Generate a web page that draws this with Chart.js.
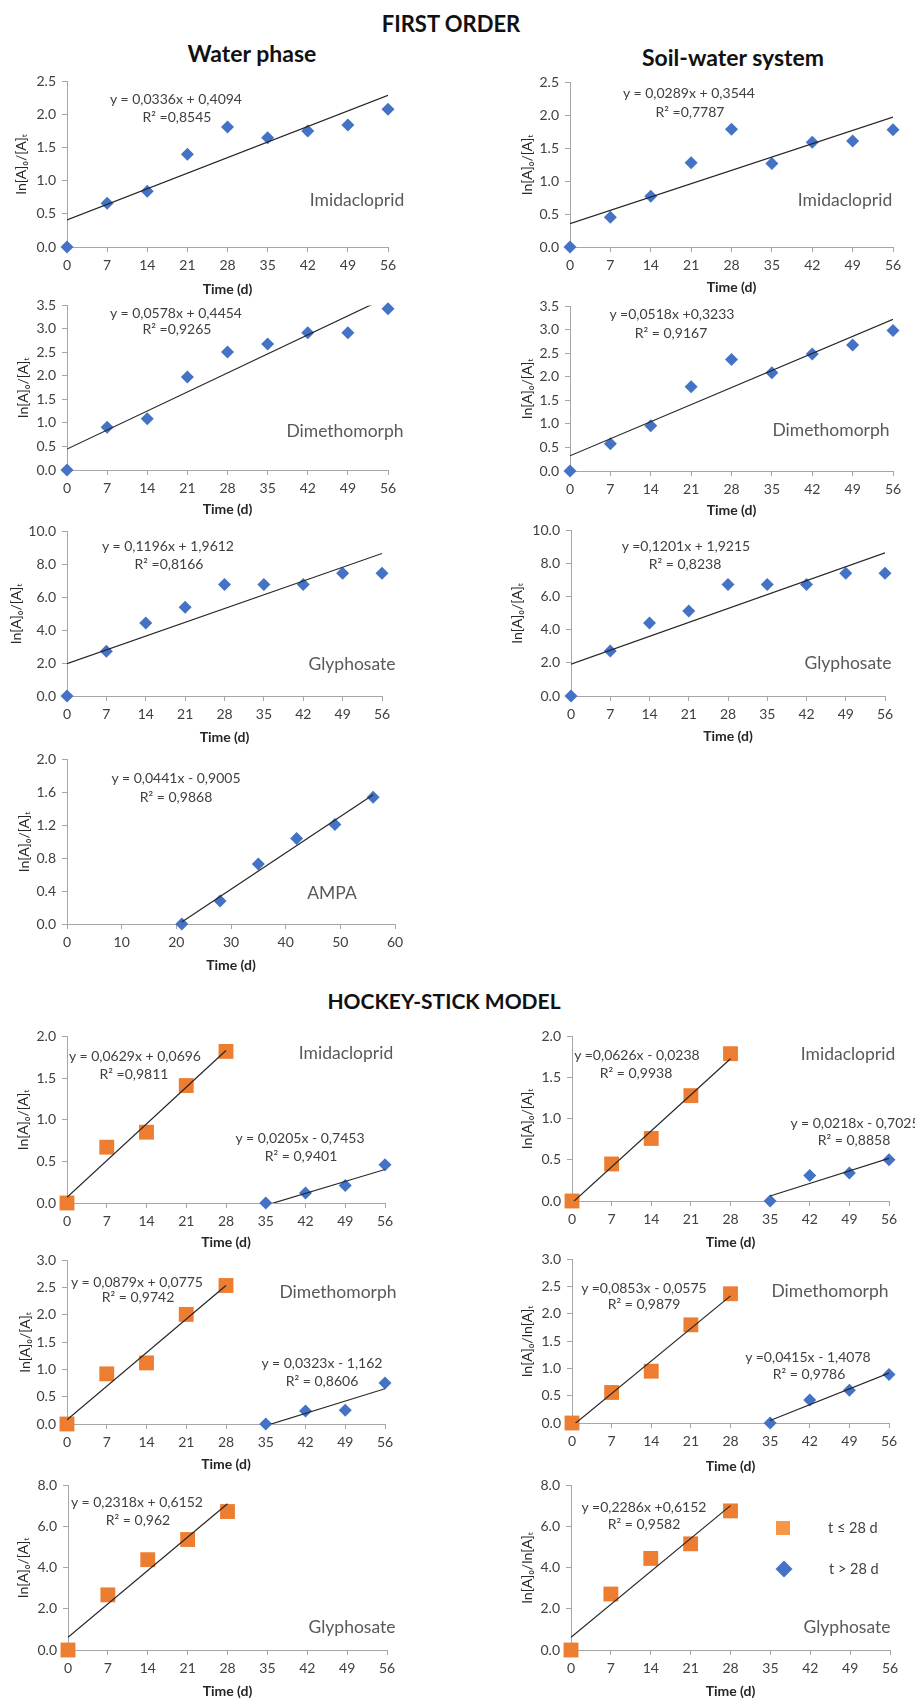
<!DOCTYPE html>
<html>
<head>
<meta charset="utf-8">
<script src="https://cdn.jsdelivr.net/npm/chart.js@4.4.1/dist/chart.umd.min.js"></script>
<style>
  html, body { margin: 0; padding: 0; background: #fff; }
  #page { position: relative; width: 915px; height: 1701px; overflow: hidden; font-family: Lato, "Open Sans", sans-serif; }
  #page canvas { position: absolute; }
  .head { position: absolute; transform: translate(-50%, -50%); font-weight: bold; color: #111; white-space: nowrap; font-size: 22px; }
  .note { position: absolute; transform: translate(-50%, -50%); white-space: nowrap; color: #404040; font-size: 14px; }
  .name { position: absolute; transform: translate(-50%, -50%); white-space: nowrap; color: #595959; font-size: 17.5px; }
</style>
</head>
<body>
<div id="page">
  <div class="head" style="left:451px; top:23px;">FIRST ORDER</div>
  <div class="head" style="left:252px; top:53px; font-size:23px;">Water phase</div>
  <div class="head" style="left:733px; top:57px; font-size:23px;">Soil-water system</div>
  <div class="head" style="left:444px; top:1000px; font-size:21px;">HOCKEY-STICK MODEL</div>
</div>
<script>
// sampling days
const days = [0, 7, 14, 21, 28, 35, 42, 49, 56];
const daysEarly = [0, 7, 14, 21, 28];
const daysLate = [35, 42, 49, 56];
const daysAmpa = [21, 28, 35, 42, 49, 56];

// first order - water phase
const waterImida = [0, 0.66, 0.84, 1.40, 1.81, 1.65, 1.75, 1.84, 2.08];
const waterDime = [0, 0.91, 1.09, 1.98, 2.51, 2.68, 2.92, 2.92, 3.43];
const waterGly = [0, 2.72, 4.43, 5.39, 6.77, 6.77, 6.77, 7.46, 7.46];
const waterAmpa = [0, 0.28, 0.73, 1.04, 1.21, 1.54];

// first order - soil-water system
const soilImida = [0, 0.45, 0.77, 1.28, 1.79, 1.27, 1.59, 1.61, 1.78];
const soilDime = [0, 0.58, 0.96, 1.79, 2.37, 2.09, 2.49, 2.68, 2.99];
const soilGly = [0, 2.71, 4.41, 5.14, 6.73, 6.73, 6.73, 7.41, 7.41];

// hockey-stick: t <= 28 d and t > 28 d
const hsWaterImidaEarly = [0, 0.67, 0.85, 1.41, 1.82];
const hsWaterImidaLate = [0, 0.12, 0.21, 0.46];
const hsWaterDimeEarly = [0, 0.92, 1.12, 2.01, 2.54];
const hsWaterDimeLate = [0, 0.24, 0.25, 0.75];
const hsWaterGlyEarly = [0, 2.68, 4.39, 5.37, 6.73];
const hsSoilImidaEarly = [0, 0.45, 0.76, 1.28, 1.79];
const hsSoilImidaLate = [0, 0.31, 0.34, 0.50];
const hsSoilDimeEarly = [0, 0.56, 0.95, 1.80, 2.37];
const hsSoilDimeLate = [0, 0.42, 0.60, 0.89];
const hsSoilGlyEarly = [0, 2.72, 4.45, 5.16, 6.76];

// regression lines [slope, intercept]
const fitWaterImida = [0.0336, 0.4094];
const fitWaterDime = [0.0578, 0.4454];
const fitWaterGly = [0.1196, 1.9612];
const fitWaterAmpa = [0.0441, -0.9005];
const fitSoilImida = [0.0289, 0.3544];
const fitSoilDime = [0.0518, 0.3233];
const fitSoilGly = [0.1201, 1.9215];
const fitHsWaterImidaEarly = [0.0629, 0.0696];
const fitHsWaterImidaLate = [0.0205, -0.7453];
const fitHsWaterDimeEarly = [0.0879, 0.0775];
const fitHsWaterDimeLate = [0.0323, -1.162];
const fitHsWaterGlyEarly = [0.2318, 0.6152];
const fitHsSoilImidaEarly = [0.0626, -0.0238];
const fitHsSoilImidaLate = [0.0218, -0.7025];
const fitHsSoilDimeEarly = [0.0853, -0.0575];
const fitHsSoilDimeLate = [0.0415, -1.4078];
const fitHsSoilGlyEarly = [0.2286, 0.6152];

const ORANGE = '#ED7D31';
const BLUE = '#4472C4';
const AXIS = '#A6A6A6';
const TXT = '#404040';
const FONT = 'Lato, "Open Sans", sans-serif';
const TITLE_SIZE = 14;
const LH = TITLE_SIZE * 1.2;

const Y_A = 'ln[A]\u2080/[A]\u209C';
const Y_B = 'ln[A]\u2080/ln[A]\u209C';

Chart.defaults.font.family = FONT;
Chart.defaults.color = TXT;

// box: [y-axis x, x-max x, y-max y, y-zero y, y-title x, x-title y] in page pixels
const panels = [
  { box: [67, 388, 77, 247, 21, 290], xMax: 56, xStep: 7, yMax: 2.5, yStep: 0.5, yTitle: Y_A,
    pts: [[days, waterImida, 'late']], fits: [[fitWaterImida, 0, 56]],
    notes: [['y = 0,0336x + 0,4094', 176, 98], ['R\u00B2 =0,8545', 177, 116]], name: ['Imidacloprid', 357, 199] },
  { box: [570, 893, 78, 247, 527, 288], xMax: 56, xStep: 7, yMax: 2.5, yStep: 0.5, yTitle: Y_A,
    pts: [[days, soilImida, 'late']], fits: [[fitSoilImida, 0, 56]],
    notes: [['y = 0,0289x + 0,3544', 689, 92], ['R\u00B2 =0,7787', 690, 111]], name: ['Imidacloprid', 845, 199] },
  { box: [67, 388, 301, 470, 23, 510], xMax: 56, xStep: 7, yMax: 3.5, yStep: 0.5, yTitle: Y_A,
    pts: [[days, waterDime, 'late']], fits: [[fitWaterDime, 0, 56]],
    notes: [['y = 0,0578x + 0,4454', 176, 312], ['R\u00B2 =0,9265', 177, 328]], name: ['Dimethomorph', 345, 430] },
  { box: [570, 893, 302, 471, 527, 511], xMax: 56, xStep: 7, yMax: 3.5, yStep: 0.5, yTitle: Y_A,
    pts: [[days, soilDime, 'late']], fits: [[fitSoilDime, 0, 56]],
    notes: [['y =0,0518x +0,3233', 672, 313], ['R\u00B2 = 0,9167', 671, 332]], name: ['Dimethomorph', 831, 429] },
  { box: [67, 382, 527, 696, 16, 738], xMax: 56, xStep: 7, yMax: 10, yStep: 2, yTitle: Y_A,
    pts: [[days, waterGly, 'late']], fits: [[fitWaterGly, 0, 56]],
    notes: [['y = 0,1196x + 1,9612', 168, 545], ['R\u00B2 =0,8166', 169, 563]], name: ['Glyphosate', 352, 663] },
  { box: [571, 885, 526, 696, 517, 737], xMax: 56, xStep: 7, yMax: 10, yStep: 2, yTitle: Y_A,
    pts: [[days, soilGly, 'late']], fits: [[fitSoilGly, 0, 56]],
    notes: [['y =0,1201x + 1,9215', 686, 545], ['R\u00B2 = 0,8238', 685, 563]], name: ['Glyphosate', 848, 662] },
  { box: [67, 395, 755, 924, 24, 966], xMax: 60, xStep: 10, yMax: 2, yStep: 0.4, yTitle: Y_A,
    pts: [[daysAmpa, waterAmpa, 'late']], fits: [[fitWaterAmpa, 21, 56]],
    notes: [['y = 0,0441x - 0,9005', 176, 777], ['R\u00B2 = 0,9868', 176, 796]], name: ['AMPA', 332, 892] },
  { box: [67, 385, 1032, 1203, 23, 1243], xMax: 56, xStep: 7, yMax: 2, yStep: 0.5, yTitle: Y_A,
    pts: [[daysEarly, hsWaterImidaEarly, 'early'], [daysLate, hsWaterImidaLate, 'late']],
    fits: [[fitHsWaterImidaEarly, 0, 28], [fitHsWaterImidaLate, 35, 56]],
    notes: [['y = 0,0629x + 0,0696', 135, 1055], ['R\u00B2 =0,9811', 134, 1073],
            ['y = 0,0205x - 0,7453', 300, 1137], ['R\u00B2 = 0,9401', 301, 1155]], name: ['Imidacloprid', 346, 1052] },
  { box: [572, 889, 1032, 1201, 527, 1243], xMax: 56, xStep: 7, yMax: 2, yStep: 0.5, yTitle: Y_A,
    pts: [[daysEarly, hsSoilImidaEarly, 'early'], [daysLate, hsSoilImidaLate, 'late']],
    fits: [[fitHsSoilImidaEarly, 0, 28], [fitHsSoilImidaLate, 35, 56]],
    notes: [['y =0,0626x - 0,0238', 637, 1054], ['R\u00B2 = 0,9938', 636, 1072],
            ['y = 0,0218x - 0,7025', 855, 1122], ['R\u00B2 = 0,8858', 854, 1139]], name: ['Imidacloprid', 848, 1053] },
  { box: [67, 385, 1256, 1424, 25, 1465], xMax: 56, xStep: 7, yMax: 3, yStep: 0.5, yTitle: Y_A,
    pts: [[daysEarly, hsWaterDimeEarly, 'early'], [daysLate, hsWaterDimeLate, 'late']],
    fits: [[fitHsWaterDimeEarly, 0, 28], [fitHsWaterDimeLate, 35, 56]],
    notes: [['y = 0,0879x + 0,0775', 137, 1281], ['R\u00B2 = 0,9742', 138, 1296],
            ['y = 0,0323x - 1,162', 322, 1362], ['R\u00B2 = 0,8606', 322, 1380]], name: ['Dimethomorph', 338, 1291] },
  { box: [572, 889, 1255, 1423, 527, 1467], xMax: 56, xStep: 7, yMax: 3, yStep: 0.5, yTitle: Y_B,
    pts: [[daysEarly, hsSoilDimeEarly, 'early'], [daysLate, hsSoilDimeLate, 'late']],
    fits: [[fitHsSoilDimeEarly, 0, 28], [fitHsSoilDimeLate, 35, 56]],
    notes: [['y =0,0853x - 0,0575', 644, 1287], ['R\u00B2 = 0,9879', 644, 1303],
            ['y =0,0415x - 1,4078', 808, 1356], ['R\u00B2 = 0,9786', 809, 1373]], name: ['Dimethomorph', 830, 1290] },
  { box: [68, 387, 1481, 1650, 23, 1692], xMax: 56, xStep: 7, yMax: 8, yStep: 2, yTitle: Y_A,
    pts: [[daysEarly, hsWaterGlyEarly, 'early']], fits: [[fitHsWaterGlyEarly, 0, 28]],
    notes: [['y = 0,2318x + 0,6152', 137, 1501], ['R\u00B2 = 0,962', 138, 1519]], name: ['Glyphosate', 352, 1626] },
  { box: [571, 890, 1481, 1650, 527, 1692], xMax: 56, xStep: 7, yMax: 8, yStep: 2, yTitle: Y_B,
    pts: [[daysEarly, hsSoilGlyEarly, 'early']], fits: [[fitHsSoilGlyEarly, 0, 28]],
    notes: [['y =0,2286x +0,6152', 644, 1506], ['R\u00B2 = 0,9582', 644, 1523]], name: ['Glyphosate', 847, 1626],
    key: [['square', '#F79646', 't \u2264 28 d', 783, 1528], ['diamond', BLUE, 't > 28 d', 784, 1569]] }
];

// small marker key drawn inside the last panel
const phaseKey = {
  id: 'phaseKey',
  afterDraw(chart, args, opts) {
    if (!opts.items) return;
    const ctx = chart.ctx;
    opts.items.forEach(([shape, color, label, x, y]) => {
      ctx.save();
      ctx.fillStyle = color;
      ctx.beginPath();
      if (shape === 'square') {
        ctx.rect(x - 7, y - 7, 14, 14);
      } else {
        ctx.moveTo(x - 8.5, y);
        ctx.lineTo(x, y - 8.5);
        ctx.lineTo(x + 8.5, y);
        ctx.lineTo(x, y + 8.5);
        ctx.closePath();
      }
      ctx.fill();
      ctx.fillStyle = TXT;
      ctx.font = '14.5px ' + FONT;
      ctx.textBaseline = 'middle';
      ctx.fillText(label, x + 45, y);
      ctx.restore();
    });
  }
};

const page = document.getElementById('page');

function addText(cls, text, x, y) {
  const d = document.createElement('div');
  d.className = cls;
  d.style.left = x + 'px';
  d.style.top = y + 'px';
  d.textContent = text;
  page.appendChild(d);
}

function toPoints(xs, ys) {
  return xs.map((x, i) => ({ x: x, y: ys[i] }));
}

function drawPanel(p) {
  const [axL, axR, yTop, yBot, yTitleX, xTitleY] = p.box;
  const padTop = 10, padRight = 18;
  const left = Math.round(yTitleX - LH / 2);
  const top = yTop - padTop;
  const width = axR + padRight - left;
  const height = Math.round(xTitleY + LH / 2) - top;

  const cv = document.createElement('canvas');
  cv.width = width;
  cv.height = height;
  cv.style.left = left + 'px';
  cv.style.top = top + 'px';
  cv.style.width = width + 'px';
  cv.style.height = height + 'px';
  page.appendChild(cv);

  const datasets = [];
  // regression lines first so they sit above the markers
  p.fits.forEach(([f, from, to]) => {
    datasets.push({
      data: [{ x: from, y: f[0] * from + f[1] }, { x: to, y: f[0] * to + f[1] }],
      showLine: true, borderColor: '#262626', borderWidth: 1.2, pointRadius: 0
    });
  });
  p.pts.forEach(([xs, ys, phase]) => {
    const early = phase === 'early';
    datasets.push({
      data: toPoints(xs, ys),
      showLine: false,
      pointStyle: early ? 'rect' : 'rectRot',
      pointRadius: early ? 10.5 : 6.5,
      pointBackgroundColor: early ? ORANGE : BLUE,
      pointBorderWidth: 0,
      clip: false
    });
  });

  const gridOpts = { drawOnChartArea: false, drawTicks: true, tickLength: 5, color: AXIS, lineWidth: 1 };

  new Chart(cv, {
    type: 'scatter',
    data: { datasets: datasets },
    plugins: p.key ? [phaseKey] : [],
    options: {
      responsive: false,
      animation: false,
      events: [],
      layout: { padding: { top: padTop, right: padRight, left: 0, bottom: 0 } },
      plugins: {
        legend: { display: false },
        tooltip: { enabled: false },
        phaseKey: { items: p.key ? p.key.map(k => [k[0], k[1], k[2], k[3] - left, k[4] - top]) : null }
      },
      scales: {
        x: {
          type: 'linear', min: 0, max: p.xMax,
          ticks: { stepSize: p.xStep, padding: 5, color: TXT, font: { size: 14 }, maxRotation: 0 },
          grid: gridOpts,
          border: { color: AXIS, width: 1 },
          title: { display: true, text: 'Time (d)', color: '#262626', padding: 0, font: { size: TITLE_SIZE, weight: 'bold' } },
          afterFit: s => { s.height = height - (yBot - top); }
        },
        y: {
          type: 'linear', min: 0, max: p.yMax,
          ticks: { stepSize: p.yStep, padding: 6, color: TXT, font: { size: 14 }, callback: v => v.toFixed(1) },
          grid: gridOpts,
          border: { color: AXIS, width: 1 },
          title: { display: true, text: p.yTitle, color: '#262626', padding: 0, font: { size: TITLE_SIZE } },
          afterFit: s => { s.width = axL - left; }
        }
      }
    }
  });

  p.notes.forEach(([t, x, y]) => addText('note', t, x, y));
  addText('name', p.name[0], p.name[1], p.name[2]);
}

panels.forEach(drawPanel);
</script>
</body>
</html>
